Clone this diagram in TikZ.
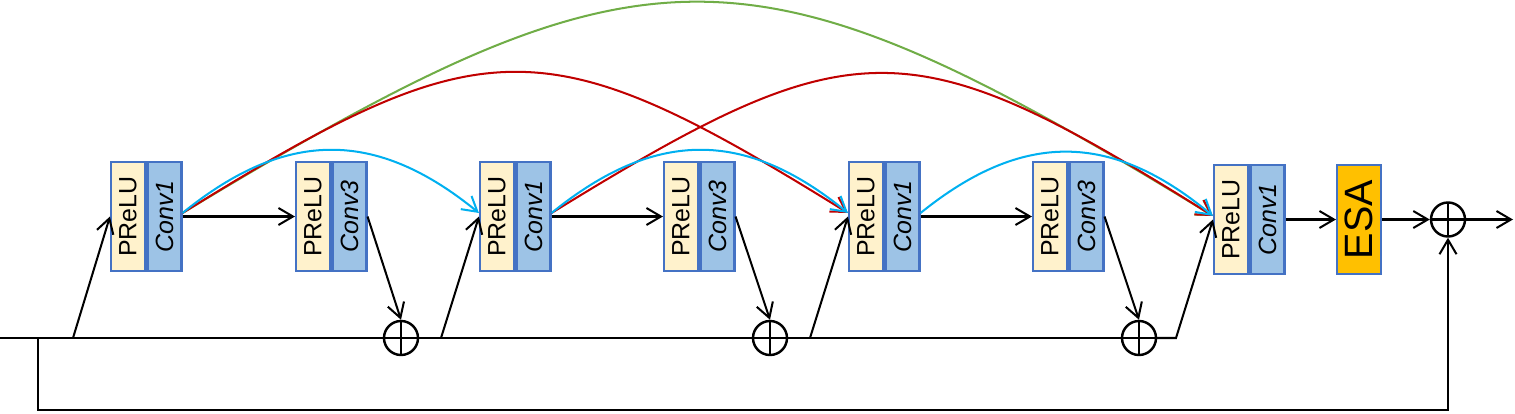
\documentclass[tikz,border=0pt]{standalone}
\usepackage{fontspec}
\setmainfont{Liberation Sans}
\usetikzlibrary{arrows.meta,calc}
\definecolor{pfill}{HTML}{FFF2CC}
\definecolor{cfill}{HTML}{9DC3E6}
\definecolor{bord}{HTML}{4472C4}
\definecolor{esafill}{HTML}{FFC000}
\definecolor{cyanl}{HTML}{00B0F0}
\definecolor{redl}{HTML}{C00000}
\definecolor{greenl}{HTML}{70AD47}
\begin{document}
\begin{tikzpicture}[x=0.02cm,y=-0.02cm,
  box/.style={draw=bord,line width=1.2pt,inner sep=0pt,minimum width=0.68cm,minimum height=2.18cm},
  pbox/.style={box,fill=pfill,font=\fontsize{14.2}{16}\selectfont},
  cbox/.style={box,fill=cfill,font=\fontsize{14.2}{16}\selectfont\itshape},
  sumc/.style={circle,draw,line width=1.4pt,minimum size=0.68cm,inner sep=0pt,
    path picture={\draw[line width=1.4pt] (path picture bounding box.north) -- (path picture bounding box.south)
      (path picture bounding box.west) -- (path picture bounding box.east);}},
  ln/.style={line width=1.15pt,black},
  arr/.style={ln,-{Straight Barb[length=2.9mm,width=3.4mm]}},
  carr/.style={line width=1.15pt,-{Straight Barb[length=2.9mm,width=3.4mm]}}
]
\useasboundingbox (0,0) rectangle (1515,413);
% blocks
\node[pbox] (p1) at (128,216.5) {\rotatebox{90}{PReLU}};
\node[cbox] (c1) at (164.5,216.5) {\rotatebox{90}{Conv1}};
\node[pbox] (p2) at (313,216.5) {\rotatebox{90}{PReLU}};
\node[cbox] (c2) at (349.5,216.5) {\rotatebox{90}{Conv3}};
\node[pbox] (p3) at (497,216.5) {\rotatebox{90}{PReLU}};
\node[cbox] (c3) at (533.5,216.5) {\rotatebox{90}{Conv1}};
\node[pbox] (p4) at (681,216.5) {\rotatebox{90}{PReLU}};
\node[cbox] (c4) at (717.5,216.5) {\rotatebox{90}{Conv3}};
\node[pbox] (p5) at (866,216.5) {\rotatebox{90}{PReLU}};
\node[cbox] (c5) at (902.5,216.5) {\rotatebox{90}{Conv1}};
\node[pbox] (p6) at (1050,216.5) {\rotatebox{90}{PReLU}};
\node[cbox] (c6) at (1086.5,216.5) {\rotatebox{90}{Conv3}};
\node[pbox] (p7) at (1231,219.5) {\rotatebox{90}{PReLU}};
\node[cbox] (c7) at (1267.5,219.5) {\rotatebox{90}{Conv1}};
\node[box,fill=esafill,minimum width=0.88cm,font=\fontsize{22.5}{26}\selectfont] (esa) at (1359,219.5) {\rotatebox{90}{ESA}};
% sums
\node[sumc] (s1) at (401,338) {};
\node[sumc] (s2) at (770,338) {};
\node[sumc] (s3) at (1139,338) {};
\node[sumc] (sF) at (1448,219.5) {};
% coordinates
\coordinate (in) at (0,338);
\coordinate (d0) at (38,338);
\coordinate (d1) at (38,410);
\coordinate (b0) at (73,338);
\coordinate (b1) at (441,338);
\coordinate (b2) at (810,338);
\coordinate (k3) at (1176,338);
\coordinate (out) at (1513,219.5);
% main line
\draw[ln] (in) -- (s1.west) (s1.east) -- (s2.west) (s2.east) -- (s3.west);
\draw[arr] (s3.east) -- (k3) -- (p7.west);
\draw[arr] (b0) -- (p1.west);
\draw[arr] (b1) -- (p3.west);
\draw[arr] (b2) -- (p5.west);
\draw[arr] (d0) -- (d1) -- (d1 -| sF) -- (sF.south);
% forward
\draw[arr] (c1.east) -- (p2.west);
\draw[arr] (c3.east) -- (p4.west);
\draw[arr] (c5.east) -- (p6.west);
\draw[arr] (c2.east) -- (s1.north);
\draw[arr] (c4.east) -- (s2.north);
\draw[arr] (c6.east) -- (s3.north);
\draw[arr] (c7.east) -- (esa.west);
\draw[arr] (esa.east) -- (sF.west);
\draw[arr] (sF.east) -- (out);
% skip curves
\draw[carr,greenl] ([yshift=2pt]c1.east) .. controls (649,-69) and (747,-69) .. ([yshift=2pt]p7.west);
\draw[carr,redl] ([yshift=2pt]c1.east) .. controls (486,25) and (545,25) .. ([yshift=2pt]p5.west);
\draw[carr,redl] ([yshift=2pt]c3.east) .. controls (855,26) and (910,26) .. ([yshift=2pt]p7.west);
\draw[carr,cyanl] ([yshift=2pt]c1.east) .. controls (286,129) and (376,129) .. ([yshift=2pt]p3.west);
\draw[carr,cyanl] ([yshift=2pt]c3.east) .. controls (655,129) and (745,129) .. ([yshift=2pt]p5.west);
\draw[carr,cyanl] ([yshift=2pt]c5.east) .. controls (1022,131) and (1111,131) .. ([yshift=2pt]p7.west);
\end{tikzpicture}
\end{document}
